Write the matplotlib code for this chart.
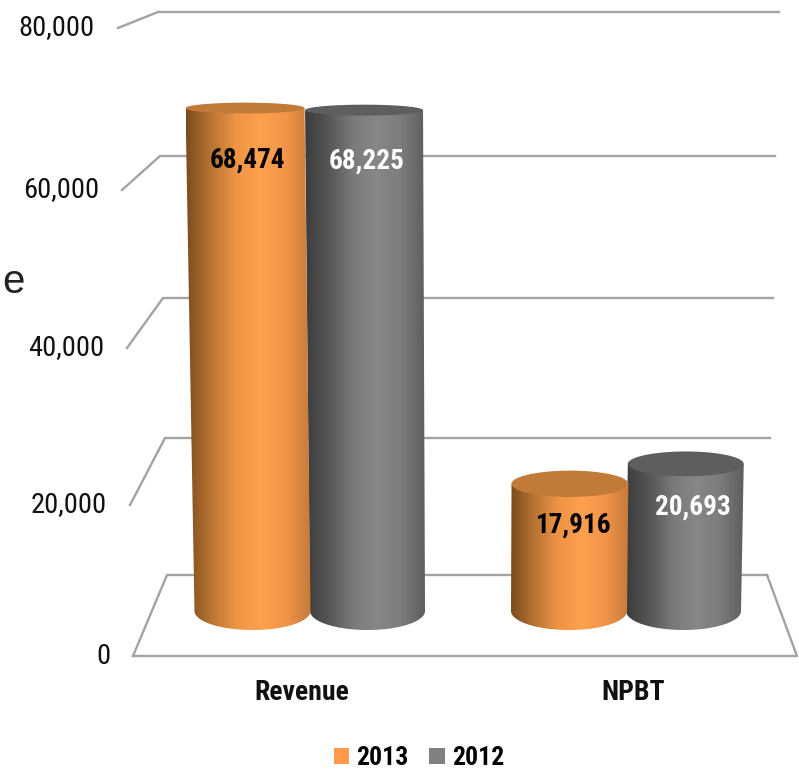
import numpy as np
import matplotlib
matplotlib.use("Agg")
import matplotlib.pyplot as plt
from matplotlib.colors import LinearSegmentedColormap
from matplotlib.patches import Patch, Polygon

plt.rcParams['font.family'] = ['Roboto Condensed', 'Liberation Sans', 'DejaVu Sans']

categories = ["Revenue", "NPBT"]
series_names = ["2013", "2012"]
values_2013 = [68474, 17916]
values_2012 = [68225, 20693]
tick_values = [0, 20000, 40000, 60000, 80000]
tick_labels = ["0", "20,000", "40,000", "60,000", "80,000"]

# fake 3d box, everything in image pixels
front_x = [133, 130, 127, 122, 118]
front_y = [656, 505, 348, 190, 28]
back_x = [167, 165, 163, 160, 158]
back_y = [575, 438, 298, 156, 12]
right_x = [767, 770, 773, 775, 779]
# where a value lands on the plane of the cylinders, and how flat the ellipse is there
bar_y = [611, 469, 321, 178, 13]
cap_ticks = [0, 20000, 68000, 80000]
cap_h = [19, 12.5, 5.5, 4]

GRID = "#a3a3a3"
orange_map = LinearSegmentedColormap.from_list("o", ["#7c4c1e", "#b87432", "#ee9446", "#ffa04c", "#f2954a", "#c67a3a"])
grey_map = LinearSegmentedColormap.from_list("g", ["#3c3c3c", "#565656", "#7a7a7a", "#878787", "#7c7c7c", "#5e5e5e"])
orange_top = "#c27a38"
grey_top = "#5e5e5e"
orange_flat = "#ff9a4a"
grey_flat = "#808080"


def cylinder(ax, xc, half_w, v, cmap, top_col, z):
    y0 = np.interp(0, tick_values, bar_y)
    y1 = np.interp(v, tick_values, bar_y)
    # slight perspective, bars lean and widen as they get taller
    shift = (xc - 467) * 0.0348 * v / 68474
    xt = xc + shift
    half_t = half_w * (1 + 0.026 * v / 68474)
    t = np.linspace(0, np.pi, 60)
    bottom = np.column_stack([xc + half_w * np.cos(t), y0 + cap_h[0] * np.sin(t)])
    pts = np.vstack([[[xt + half_t, y1]], bottom, [[xt - half_t, y1]]])
    body = Polygon(pts, closed=True, fc="none", ec="none", transform=ax.transData)
    ax.add_patch(body)
    grad = np.linspace(0, 1, 256).reshape(1, -1)
    left = min(xc - half_w, xt - half_t)
    right = max(xc + half_w, xt + half_t)
    im = ax.imshow(grad, cmap=cmap, extent=[left, right, y0 + 20, y1], aspect="auto", zorder=z)
    im.set_clip_path(body)
    t2 = np.linspace(0, 2 * np.pi, 90)
    h = np.interp(v, cap_ticks, cap_h)
    cap = np.column_stack([xt + half_t * np.cos(t2), y1 + h * np.sin(t2)])
    ax.add_patch(Polygon(cap, closed=True, fc=top_col, ec="none", zorder=z + 0.1))


fig = plt.figure(figsize=(7.99, 7.69), dpi=100)
ax = fig.add_axes([0, 0, 1, 1])

# grid lines with the diagonal going to the front edge
for i in range(len(tick_values)):
    ax.plot([front_x[i], back_x[i], right_x[i]], [front_y[i], back_y[i], back_y[i]],
            color=GRID, lw=1.7, zorder=1, solid_joinstyle="miter")
    ax.text(front_x[i] - 23, front_y[i], tick_labels[i], ha="right", va="center",
            fontsize=20.5, color="#111111")
ax.plot([front_x[0], 797, right_x[0]], [front_y[0], front_y[0], back_y[0]], color=GRID, lw=1.7, zorder=1)

# bars
centers_2013 = [252.5, 569]
centers_2012 = [367.5, 683.5]
for i in range(len(categories)):
    cylinder(ax, centers_2012[i], 57.5, values_2012[i], grey_map, grey_top, 3)
    cylinder(ax, centers_2013[i], 58, values_2013[i], orange_map, orange_top, 4)

# data labels
label_pos_2013 = [(247, 160), (574, 525)]
label_pos_2012 = [(367, 161), (693, 507)]
for i in range(len(categories)):
    ax.text(label_pos_2013[i][0], label_pos_2013[i][1], f"{values_2013[i]:,}", ha="center", va="center",
            fontsize=19.5, fontweight="bold", color="black", zorder=6)
    ax.text(label_pos_2012[i][0], label_pos_2012[i][1], f"{values_2012[i]:,}", ha="center", va="center",
            fontsize=19.5, fontweight="bold", color="white", zorder=6)

cat_x = [302, 633]
for i in range(len(categories)):
    ax.text(cat_x[i], 692, categories[i], ha="center", va="center", fontsize=20,
            fontweight="bold", color="#111111")

# stray letter cropped from the slide
ax.text(13, 282, "e", ha="center", va="center", fontsize=29, family="Liberation Sans", color="#222222")

handles = [Patch(fc=orange_flat, ec="none"), Patch(fc=grey_flat, ec="none")]
leg = ax.legend(handles, series_names, ncol=2, loc="center", bbox_to_anchor=(419, 758),
                bbox_transform=ax.transData, frameon=False,
                prop={"family": ["Roboto Condensed", "Liberation Sans"], "weight": "bold", "size": 18.5},
                handlelength=0.62, handleheight=0.62, handletextpad=0.27, columnspacing=0.8,
                borderpad=0, borderaxespad=0)

ax.set_xlim(0, 799)
ax.set_ylim(769, 0)
ax.axis("off")
fig.savefig("out.png", dpi=100)
